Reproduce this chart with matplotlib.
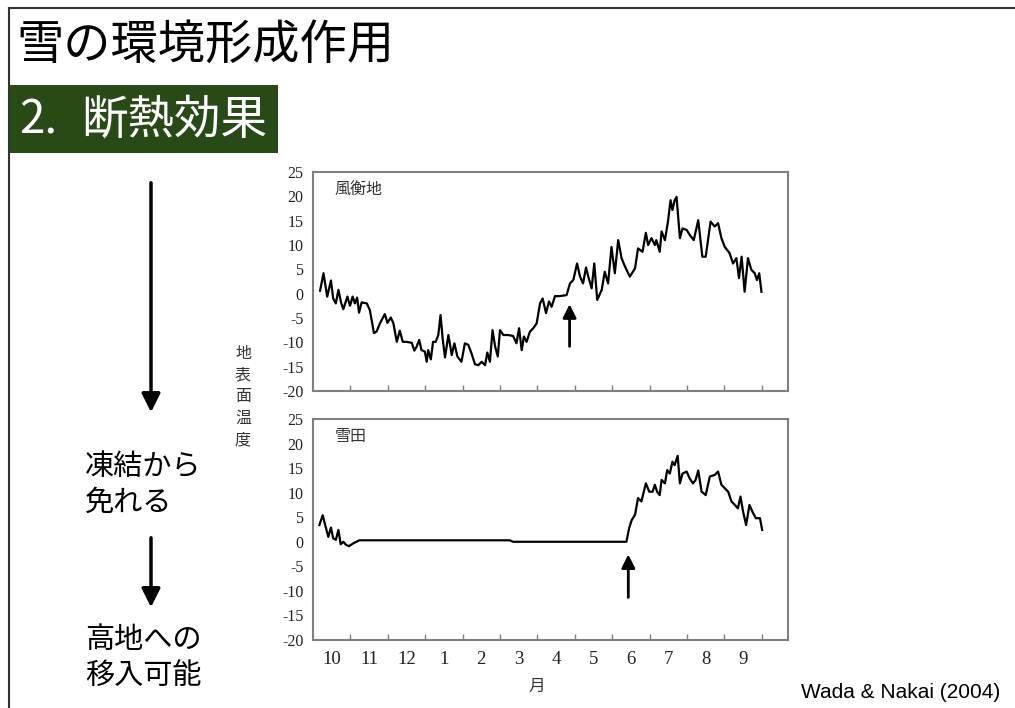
import matplotlib
matplotlib.use("Agg")
import matplotlib.pyplot as plt
from matplotlib.patches import Rectangle
from matplotlib.lines import Line2D

plt.rcParams['font.family'] = ['Noto Sans CJK JP', 'DejaVu Sans']

# months counted from 1 Oct (0 = start of Oct, 12 = end of Sep)
month_labels = ['10', '11', '12', '1', '2', '3', '4', '5', '6', '7', '8', '9']

# wind-exposed site (風衡地)
wind_month = [0.19, 0.28, 0.38, 0.48, 0.54, 0.61, 0.68, 0.75, 0.81, 0.92,
              0.99, 1.06, 1.12, 1.18, 1.23, 1.30, 1.44, 1.52, 1.63, 1.70,
              1.79, 1.92, 1.99, 2.08, 2.15, 2.24, 2.32, 2.40, 2.50, 2.64,
              2.71, 2.77, 2.84, 2.90, 2.99, 3.04, 3.08, 3.15, 3.21, 3.28,
              3.35, 3.41, 3.47, 3.53, 3.62, 3.71, 3.78, 3.86, 3.97, 4.06,
              4.15, 4.24, 4.33, 4.42, 4.51, 4.60, 4.66, 4.73, 4.80, 4.87,
              4.94, 5.00, 5.09, 5.22, 5.35, 5.44, 5.51, 5.58, 5.64, 5.71,
              5.80, 5.89, 5.98, 6.07, 6.14, 6.23, 6.31, 6.38, 6.47, 6.60,
              6.78, 6.87, 6.96, 7.06, 7.14, 7.22, 7.30, 7.36, 7.45, 7.52,
              7.60, 7.72, 7.80, 7.89, 7.98, 8.07, 8.16, 8.25, 8.34, 8.47,
              8.61, 8.69, 8.81, 8.90, 8.96, 9.05, 9.14, 9.18, 9.27, 9.32,
              9.41, 9.49, 9.56, 9.61, 9.67, 9.72, 9.81, 9.88, 9.99, 10.07,
              10.18, 10.30, 10.41, 10.50, 10.63, 10.74, 10.83, 10.92, 11.01, 11.14,
              11.23, 11.32, 11.39, 11.46, 11.54, 11.63, 11.72, 11.81, 11.87, 11.93,
              11.99]
wind_temp = [0.6, 4.2, -0.6, 2.7, -1.0, -2.0, 0.8, -1.8, -3.2, -0.6,
             -2.5, -0.6, -2.0, -0.8, -3.9, -1.8, -2.0, -3.4, -8.1, -7.8,
             -6.1, -4.2, -6.0, -4.9, -6.1, -9.9, -7.6, -9.9, -9.9, -10.1,
             -11.7, -10.9, -9.5, -11.6, -11.9, -14.0, -11.6, -13.5, -9.9, -9.9,
             -8.5, -4.4, -9.5, -13.1, -8.5, -12.6, -10.2, -12.9, -14.0, -10.2,
             -10.5, -12.3, -14.5, -14.7, -14.0, -14.7, -12.1, -14.0, -7.5, -10.9,
             -12.9, -7.5, -8.5, -8.5, -8.7, -10.2, -7.1, -11.6, -8.8, -9.9,
             -7.8, -7.1, -6.1, -2.0, -1.0, -4.0, -1.6, -2.7, -0.5, -0.5,
             -0.3, 2.1, 2.8, 6.2, 3.5, 2.1, 5.4, 3.5, 1.1, 6.2,
             -1.3, 0.8, 4.5, 2.1, 9.6, 4.2, 11.0, 7.3, 5.6, 3.5,
             5.2, 9.3, 8.6, 12.5, 10.0, 11.4, 10.0, 11.0, 8.6, 12.8,
             11.0, 14.8, 19.2, 17.2, 19.2, 19.9, 11.4, 13.4, 13.1, 12.1,
             11.0, 15.1, 7.6, 7.6, 14.8, 13.8, 14.5, 11.4, 9.6, 8.3,
             6.2, 7.3, 3.2, 7.6, 0.4, 7.3, 4.9, 4.2, 2.8, 4.2,
             0.4]

# snowbed site (雪田)
snow_month = [0.17, 0.26, 0.35, 0.41, 0.48, 0.54, 0.61, 0.68, 0.74, 0.81,
              0.88, 0.96, 1.08, 1.24, 5.26, 5.35,
              8.38, 8.45, 8.52, 8.61, 8.69, 8.78, 8.90, 8.99, 9.08, 9.14,
              9.20, 9.27, 9.32, 9.41, 9.47, 9.54, 9.61, 9.67, 9.75, 9.81,
              9.88, 9.99, 10.07, 10.16, 10.23, 10.30, 10.39, 10.50, 10.61, 10.74,
              10.83, 10.92, 11.01, 11.10, 11.19, 11.28, 11.36, 11.43, 11.50, 11.58,
              11.67, 11.75, 11.84, 11.95, 12.01]
snow_temp = [3.4, 5.4, 2.7, 1.0, 2.9, 0.7, 0.4, 2.4, -0.5, 0.0,
             -0.6, -0.9, -0.3, 0.3, 0.3, 0.0,
             0.0, 2.7, 4.4, 5.5, 8.9, 8.2, 11.9, 10.2, 10.2, 11.6,
             10.2, 9.5, 12.6, 11.9, 14.6, 13.9, 16.3, 15.6, 17.5, 11.9,
             13.9, 14.3, 12.9, 11.9, 12.6, 14.5, 10.2, 9.5, 13.3, 13.6,
             14.3, 11.6, 10.9, 10.2, 8.2, 7.5, 6.8, 9.2, 6.1, 3.4,
             7.5, 6.1, 4.8, 4.8, 2.4]

# snow-melt arrows: month, tail temp, tip temp
melt_month = [6.86, 8.43]
melt_tail = [-11.4, -11.9]
melt_tip = [-1.6, -2.0]

W, H = 1015, 708
fig = plt.figure(figsize=(W / 100, H / 100), dpi=100)

# full-figure overlay in pixel coordinates for the slide decorations
bg = fig.add_axes([0, 0, 1, 1])
bg.set_xlim(0, W)
bg.set_ylim(H, 0)
bg.axis('off')
bg.add_line(Line2D([9, 9], [8, H], color='#333333', lw=1.5))
bg.add_line(Line2D([9, W], [8, 8], color='#333333', lw=1.5))
bg.add_patch(Rectangle((9, 85), 269, 68, facecolor='#284a17', edgecolor='none'))
bg.text(16, 46, '雪の環境形成作用', fontsize=34, va='center', ha='left', color='black')
bg.text(19, 120, '2.', fontsize=33, va='center', ha='left', color='white')
bg.text(81, 120, '断熱効果', fontsize=33.5, va='center', ha='left', color='white')

for y0, y1 in [(180, 415), (535, 610)]:
    bg.annotate('', xy=(151, y1), xytext=(151, y0),
                arrowprops=dict(arrowstyle='-|>', lw=2.5, color='black', mutation_scale=28))
bg.text(85, 485, '凍結から\n免れる', fontsize=21, va='center', ha='left', linespacing=1.25)
bg.text(85, 658, '高地への\n移入可能', fontsize=21, va='center', ha='left', linespacing=1.25)
bg.text(243, 397, '地\n表\n面\n温\n度', fontsize=11.5, va='center', ha='center',
        color='#333333', linespacing=1.35)
bg.text(537, 686, '月', fontsize=12, va='center', ha='center', color='#333333')
bg.text(1000, 692, 'Wada & Nakai (2004)', fontsize=15, va='center', ha='right',
        family='Liberation Sans', color='black')

ax_left = 313 / W
ax_w = (788 - 313) / W
ax_top = fig.add_axes([ax_left, 1 - 391 / H, ax_w, (391 - 172) / H])
ax_bot = fig.add_axes([ax_left, 1 - 640 / H, ax_w, (640 - 419) / H])

panels = [(ax_top, wind_month, wind_temp, '風衡地', 0),
          (ax_bot, snow_month, snow_temp, '雪田', 1)]
for ax, m, t, name, i in panels:
    ax.plot(m, t, color='black', lw=1.6)
    ax.set_xlim(0, 12.7)
    ax.set_ylim(-20, 25)
    ax.set_yticks(range(-20, 30, 5))
    ax.set_yticklabels([str(v) for v in range(-20, 30, 5)], family='Liberation Serif',
                       fontsize=11.5, color='#222222')
    ax.set_xticks(range(1, 13))
    ax.set_xticklabels([])
    ax.set_xticks([k + 0.5 for k in range(12)], minor=True)
    if i == 1:
        ax.set_xticklabels(month_labels, minor=True, family='Liberation Serif',
                           fontsize=13.5, color='#222222')
    ax.tick_params(axis='x', which='major', direction='in', length=4, width=1, color='#7f7f7f')
    ax.tick_params(axis='x', which='minor', length=0, pad=8)
    ax.tick_params(axis='y', length=0, pad=7)
    for s in ax.spines.values():
        s.set_color('#7f7f7f')
        s.set_linewidth(1.5)
    ax.text(0.045, 0.92, name, transform=ax.transAxes, fontsize=11.5, va='center',
            ha='left', color='#333333')
    ax.annotate('', xy=(melt_month[i], melt_tip[i]), xytext=(melt_month[i], melt_tail[i]),
                arrowprops=dict(arrowstyle='-|>', lw=2, color='black', mutation_scale=20))

fig.savefig('out.png', dpi=100)
